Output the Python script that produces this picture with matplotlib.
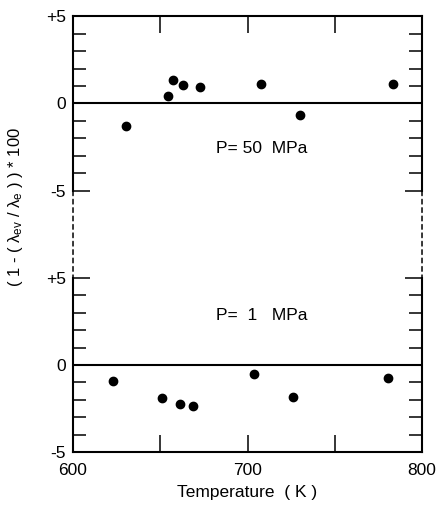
import matplotlib
matplotlib.use("Agg")
import matplotlib.pyplot as plt
from matplotlib.patches import ConnectionPatch

plt.rcParams["font.family"] = ["Liberation Sans", "DejaVu Sans"]
plt.rcParams["mathtext.default"] = "regular"

# P = 50 MPa
t_50 = [630.4, 654.6, 657.5, 662.8, 672.8, 707.7, 730.1, 783.2]
dev_50 = [-1.26, 0.42, 1.35, 1.07, 0.95, 1.09, -0.65, 1.09]

# P = 1 MPa
t_1 = [623.1, 650.8, 661.3, 668.9, 703.7, 725.9, 780.3]
dev_1 = [-0.90, -1.88, -2.26, -2.38, -0.54, -1.82, -0.73]

x_ticks = [600, 650, 700, 750, 800]
x_labels = ["600", "", "700", "", "800"]
y_ticks = [-5, 0, 5]
y_labels = ["-5", "0", "+5"]


def style(ax):
    ax.set_xlim(600, 800)
    ax.set_ylim(-5, 5)
    ax.set_yticks(y_ticks)
    ax.set_yticklabels(y_labels)
    ax.set_yticks(range(-5, 6), minor=True)
    ax.tick_params(axis="y", which="both", direction="in", left=True, right=True,
                   width=1.1, labelsize=12.5, pad=5)
    ax.tick_params(axis="y", which="major", length=12)
    ax.tick_params(axis="y", which="minor", length=9.5)
    ax.tick_params(axis="x", direction="in", length=12, width=1.1, labelsize=12.5, pad=8)
    for s in ax.spines.values():
        s.set_linewidth(1.5)
    ax.axhline(0, color="black", lw=1.5)


fig = plt.figure(figsize=(4.38, 5.05), dpi=100)
ax_top = fig.add_axes([0.1667, 0.6218, 0.7968, 0.3465])
ax_bot = fig.add_axes([0.1667, 0.1050, 0.7968, 0.3446])

style(ax_top)
ax_top.spines["bottom"].set_visible(False)
ax_top.set_xticks(x_ticks)
ax_top.tick_params(axis="x", bottom=False, top=True, labelbottom=False)
ax_top.plot(t_50, dev_50, "o", color="black", markersize=6)
ax_top.text(682, -2.6, "P= 50  MPa", fontsize=12.5, va="center", ha="left")

style(ax_bot)
ax_bot.spines["top"].set_visible(False)
ax_bot.set_xticks(x_ticks)
ax_bot.set_xticklabels(x_labels)
ax_bot.plot(t_1, dev_1, "o", color="black", markersize=6)
ax_bot.text(682, 2.87, "P=  1   MPa", fontsize=12.5, va="center", ha="left")
ax_bot.set_xlabel("Temperature  ( K )", fontsize=12.5, labelpad=5)

# dashed spine continuation between the two panels
for xv in (600, 800):
    con = ConnectionPatch(xyA=(xv, -5), coordsA=ax_top.transData,
                          xyB=(xv, 5), coordsB=ax_bot.transData,
                          linestyle=(0, (3, 2.5)), lw=1.1, color="black")
    fig.add_artist(con)

fig.text(0.035, 0.59, "( 1 - ( λ$_{ev}$ / λ$_{e}$ ) ) * 100",
         rotation=90, fontsize=12, ha="center", va="center")

fig.savefig("out.png", dpi=100)
